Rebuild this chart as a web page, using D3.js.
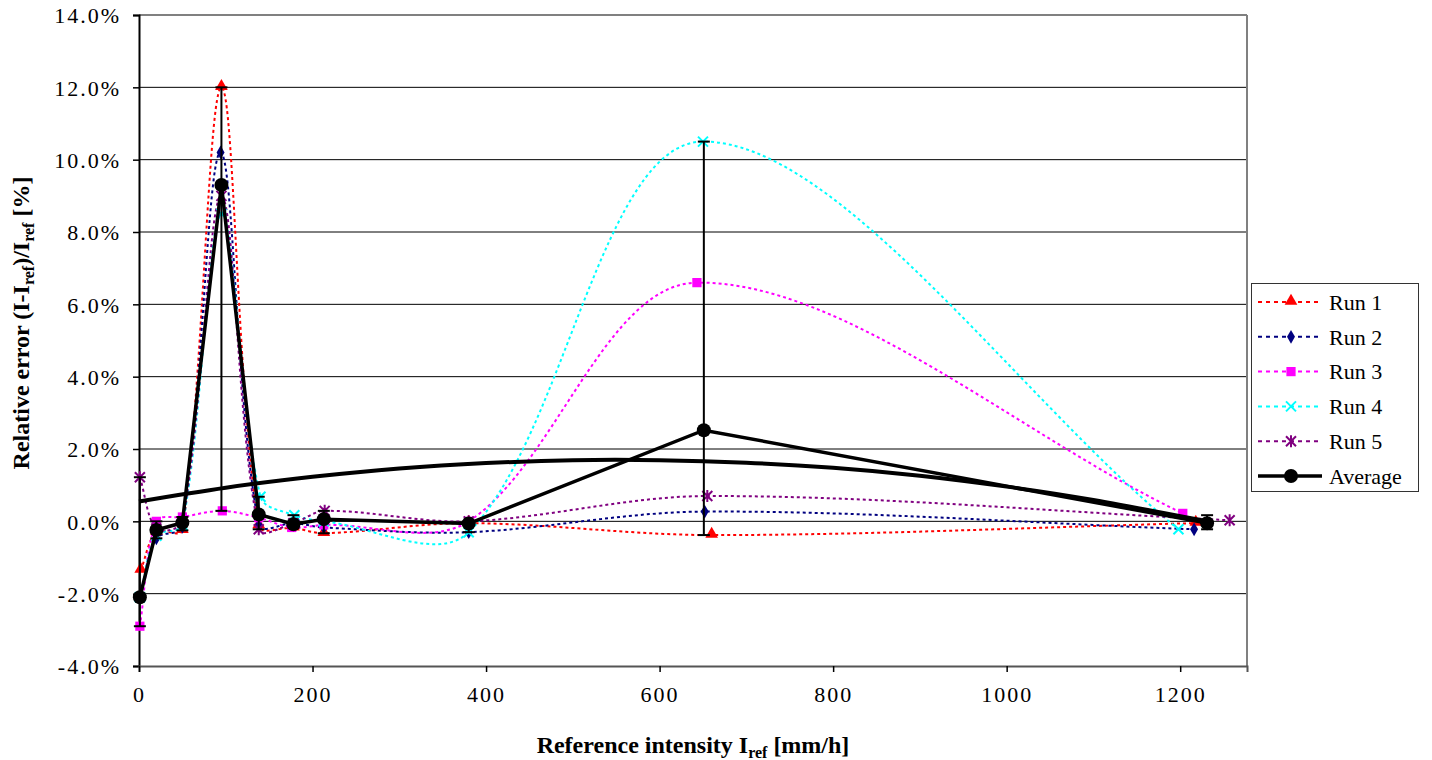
<!DOCTYPE html>
<html><head><meta charset="utf-8">
<script src="https://cdn.jsdelivr.net/npm/d3@7"></script>
<style>
html,body{margin:0;padding:0;background:#fff;}
svg{display:block;}
text{font-family:"Liberation Serif","Times New Roman",serif;fill:#000;}
</style></head>
<body><svg id="c" width="1432" height="760"></svg>
<script>
// ---- data ----
const run1X = [2, 20, 50, 95, 138, 178, 213, 380, 660, 1218];
const run1Y = [-1.35, -0.3, -0.25, 12.0, -0.12, -0.18, -0.33, -0.05, -0.38, -0.05];
const run2X = [1, 20, 50, 94, 138, 178, 213, 380, 652, 1216];
const run2Y = [-2.1, -0.47, -0.15, 10.2, -0.1, -0.05, -0.17, -0.3, 0.27, -0.22];
const run3X = [1, 20, 50, 96, 138, 176, 213, 380, 643, 1203];
const run3Y = [-2.9, 0.0, 0.12, 0.29, 0.1, -0.17, -0.1, 0.0, 6.6, 0.22];
const run4X = [1, 20, 50, 95, 140, 179, 213, 380, 650, 1198];
const run4Y = [-2.1, -0.4, -0.1, 8.5, 0.68, 0.17, 0.0, -0.3, 10.5, -0.22];
const run5X = [1, 20, 50, 95, 138, 178, 214, 380, 655, 1257];
const run5Y = [1.22, -0.2, 0.0, 9.0, -0.22, -0.05, 0.29, 0.0, 0.7, 0.03];
const avgX = [1, 20, 50, 95, 138, 178, 213, 380, 651, 1231];
const avgY = [-2.1, -0.24, -0.04, 9.3, 0.19, -0.08, 0.06, -0.06, 2.52, -0.05];
const avgErrHigh = [1.22, 0.0, 0.12, 12.0, 0.68, 0.17, 0.29, 0.0, 10.5, 0.17];
const avgErrLow = [-2.9, -0.47, -0.25, 0.29, -0.22, -0.18, -0.33, -0.3, -0.38, -0.22];
// trendline
const trendX = [0, 100, 200, 300, 400, 500, 600, 700, 800, 900, 1000, 1100, 1231];
const trendY = [0.55, 0.93, 1.23, 1.46, 1.61, 1.69, 1.69, 1.62, 1.48, 1.26, 0.96, 0.59, 0.0];
const xTicks = [0, 200, 400, 600, 800, 1000, 1200];
const yTicks = [-4, -2, 0, 2, 4, 6, 8, 10, 12, 14];
const seriesNames = ["Run 1", "Run 2", "Run 3", "Run 4", "Run 5", "Average"];
const seriesColors = ["#ff0000", "#000080", "#ff00ff", "#00ffff", "#800080", "#000000"];

// ---- layout ----
const L = 139, R = 1247, T = 15, B = 666;
const svg = d3.select("#c");
const x = d3.scaleLinear().domain([0, 1277]).range([L, R]);
const y = d3.scaleLinear().domain([-4, 14]).range([B, T]);

// gridlines
svg.append("g").selectAll("line").data(yTicks.filter(v => v > -4 && v < 14)).join("line")
  .attr("x1", L).attr("x2", R).attr("y1", d => y(d)).attr("y2", d => y(d))
  .attr("stroke", "#000").attr("stroke-width", 1);

// plot border top/right (gray)
svg.append("line").attr("x1", L).attr("x2", R).attr("y1", T).attr("y2", T).attr("stroke", "#808080").attr("stroke-width", 2);
svg.append("line").attr("x1", R).attr("x2", R).attr("y1", T).attr("y2", B).attr("stroke", "#808080").attr("stroke-width", 2);

// axes
const fmtY = d => d.toFixed(1) + "%";
const yAxis = d3.axisLeft(y).tickValues(yTicks).tickFormat(fmtY).tickSize(6).tickPadding(12);
const gy = svg.append("g").attr("transform", `translate(${L},0)`).call(yAxis);
gy.select(".domain").attr("stroke", "#000").attr("stroke-width", 2);
gy.selectAll(".tick line").attr("stroke", "#000").attr("stroke-width", 1.5);
gy.selectAll(".tick text").attr("font-size", 22).attr("letter-spacing", 2)
  .attr("font-family", "Liberation Serif").attr("fill", "#000").attr("dy", "0.35em");

const xAxis = d3.axisBottom(x).tickValues(xTicks).tickFormat(d3.format("d")).tickSize(6).tickPadding(14);
const gx = svg.append("g").attr("transform", `translate(0,${B})`).call(xAxis);
gx.select(".domain").attr("stroke", "#555").attr("stroke-width", 2);
gx.selectAll(".tick line").attr("stroke", "#000").attr("stroke-width", 1.5);
gx.selectAll(".tick text").attr("font-size", 22).attr("letter-spacing", 2)
  .attr("font-family", "Liberation Serif").attr("fill", "#000");

// axis titles
const yt = svg.append("text").attr("transform", "translate(29,323) rotate(-90)")
  .attr("text-anchor", "middle").attr("font-size", 24).attr("font-weight", "bold");
yt.append("tspan").text("Relative error (I-I");
yt.append("tspan").text("ref").attr("font-size", 16).attr("baseline-shift", "-5");
yt.append("tspan").text(")/I");
yt.append("tspan").text("ref").attr("font-size", 16).attr("baseline-shift", "-5");
yt.append("tspan").text(" [%]");

const xt = svg.append("text").attr("x", 693).attr("y", 753)
  .attr("text-anchor", "middle").attr("font-size", 24).attr("font-weight", "bold");
xt.append("tspan").text("Reference intensity I");
xt.append("tspan").text("ref").attr("font-size", 16).attr("baseline-shift", "-5");
xt.append("tspan").text(" [mm/h]");

// markers
function drawMarker(g, kind, cx, cy, color) {
  if (kind === 0) g.append("path").attr("d", d3.symbol(d3.symbolTriangle, 70)()).attr("transform", `translate(${cx},${cy - 1})`).attr("fill", color);
  else if (kind === 1) g.append("path").attr("d", d3.symbol(d3.symbolDiamond, 55)()).attr("transform", `translate(${cx},${cy})`).attr("fill", color);
  else if (kind === 2) g.append("path").attr("d", d3.symbol(d3.symbolSquare, 85)()).attr("transform", `translate(${cx},${cy})`).attr("fill", color);
  else if (kind === 3) {
    g.append("path").attr("d", `M${cx - 5},${cy - 5}L${cx + 5},${cy + 5}M${cx - 5},${cy + 5}L${cx + 5},${cy - 5}`).attr("stroke", color).attr("stroke-width", 2).attr("fill", "none");
  } else if (kind === 4) {
    g.append("path").attr("d", `M${cx - 5},${cy - 5}L${cx + 5},${cy + 5}M${cx - 5},${cy + 5}L${cx + 5},${cy - 5}M${cx},${cy - 6}L${cx},${cy + 6}`).attr("stroke", color).attr("stroke-width", 2).attr("fill", "none");
  } else if (kind === 5) g.append("circle").attr("cx", cx).attr("cy", cy).attr("r", 7).attr("fill", color);
}

// spreadsheet-style smoothed line: Bezier through scaled points, tangent split by chord lengths
function smoothPath(xs, ys) {
  const p = xs.map((v, k) => [x(v), y(ys[k])]);
  const n = p.length;
  const path = d3.path();
  path.moveTo(p[0][0], p[0][1]);
  const dist = (a, b) => Math.hypot(b[0] - a[0], b[1] - a[1]);
  const ctrl = i => {
    const p0 = p[Math.max(0, i - 1)], p1 = p[i], p2 = p[Math.min(n - 1, i + 1)];
    const d01 = dist(p0, p1), d12 = dist(p1, p2), s = d01 + d12 || 1;
    const tx = p2[0] - p0[0], ty = p2[1] - p0[1];
    return {
      back: [p1[0] - tx * d01 / s / 3, p1[1] - ty * d01 / s / 3],
      fwd: [p1[0] + tx * d12 / s / 3, p1[1] + ty * d12 / s / 3]
    };
  };
  for (let i = 0; i < n - 1; i++) {
    const c1 = ctrl(i).fwd, c2 = ctrl(i + 1).back;
    path.bezierCurveTo(c1[0], c1[1], c2[0], c2[1], p[i + 1][0], p[i + 1][1]);
  }
  return path.toString();
}

const runs = [[run1X, run1Y], [run2X, run2Y], [run3X, run3Y], [run4X, run4Y], [run5X, run5Y]];
const lineStraight = d3.line().x(d => x(d[0])).y(d => y(d[1]));

const gRuns = svg.append("g");
runs.forEach((r, i) => {
  gRuns.append("path").attr("d", smoothPath(r[0], r[1])).attr("fill", "none")
    .attr("stroke", seriesColors[i]).attr("stroke-width", 2).attr("stroke-dasharray", "3,3");
});
runs.forEach((r, i) => {
  const gm = gRuns.append("g");
  r[0].forEach((v, k) => drawMarker(gm, i, x(v), y(r[1][k]), seriesColors[i]));
});

// trendline
const trendPts = trendX.map((v, k) => [v, trendY[k]]);
svg.append("path").attr("d", d3.line().x(d => x(d[0])).y(d => y(d[1])).curve(d3.curveNatural)(trendPts))
  .attr("fill", "none").attr("stroke", "#000").attr("stroke-width", 4);

// average with error bars
const gAvg = svg.append("g");
avgX.forEach((v, k) => {
  const cx = x(v);
  gAvg.append("line").attr("x1", cx).attr("x2", cx).attr("y1", y(avgErrHigh[k])).attr("y2", y(avgErrLow[k])).attr("stroke", "#000").attr("stroke-width", 2);
  [avgErrHigh[k], avgErrLow[k]].forEach(e => gAvg.append("line").attr("x1", cx - 6).attr("x2", cx + 6).attr("y1", y(e)).attr("y2", y(e)).attr("stroke", "#000").attr("stroke-width", 2));
});
const avgPts = avgX.map((v, k) => [v, avgY[k]]);
gAvg.append("path").attr("d", lineStraight(avgPts)).attr("fill", "none").attr("stroke", "#000").attr("stroke-width", 3.5);
avgX.forEach((v, k) => drawMarker(gAvg, 5, x(v), y(avgY[k]), "#000"));

// legend
const lg = svg.append("g");
lg.append("rect").attr("x", 1251.5).attr("y", 283.5).attr("width", 167).attr("height", 208)
  .attr("fill", "#fff").attr("stroke", "#333").attr("stroke-width", 1);
const rowY = d3.scalePoint().domain(seriesNames).range([302, 476]);
seriesNames.forEach((name, i) => {
  const cy = rowY(name);
  const ln = lg.append("line").attr("x1", 1258).attr("x2", 1322).attr("y1", cy).attr("y2", cy)
    .attr("stroke", seriesColors[i]).attr("stroke-width", i === 5 ? 3.5 : 2);
  if (i < 5) ln.attr("stroke-dasharray", "4,4");
  drawMarker(lg, i, 1291, cy, seriesColors[i]);
  lg.append("text").attr("x", 1329).attr("y", cy).attr("dy", "0.35em").attr("font-size", 22).text(name);
});
</script></body></html>
